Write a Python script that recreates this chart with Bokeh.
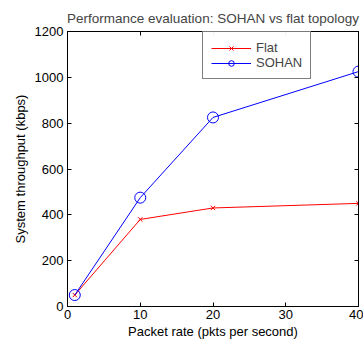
from bokeh.plotting import figure
from bokeh.models import LinearAxis, Range1d, Legend, LegendItem, FixedTicker
from bokeh.embed import file_html
from bokeh.resources import INLINE

packet_rate = [1, 10, 20, 40]
flat = [50, 380, 430, 450]
sohan = [50, 475, 825, 1025]

x_ticks = [0, 10, 20, 30, 40]
y_ticks = [0, 200, 400, 600, 800, 1000, 1200]

FONT = "Liberation Sans"
FS = "13px"

p = figure(width=363, height=344, output_backend="svg", toolbar_location=None,
           x_range=Range1d(0, 40), y_range=Range1d(0, 1200),
           min_border_left=67, min_border_right=5, min_border_top=31, min_border_bottom=38)
p.title.text = "Performance evaluation: SOHAN vs flat topology"
p.title.align = "center"
p.title.text_font = FONT
p.title.text_font_size = "13.5px"
p.title.text_font_style = "normal"
p.title.offset = 0
p.title.standoff = 11

p.xgrid.visible = False
p.ygrid.visible = False
p.outline_line_color = "black"
p.outline_line_width = 1

for ax in (p.xaxis[0], p.yaxis[0]):
    ax.major_tick_in = 4
    ax.major_tick_out = 0
    ax.minor_tick_in = 0
    ax.minor_tick_out = 0
    ax.major_tick_line_color = "black"
    ax.major_label_text_font = FONT
    ax.major_label_text_font_size = FS
    ax.major_label_text_color = "black"
    ax.axis_label_text_font = FONT
    ax.axis_label_text_font_size = FS
    ax.axis_label_text_font_style = "normal"
    ax.axis_label_text_color = "black"
    ax.axis_line_color = "black"

p.xaxis[0].ticker = FixedTicker(ticks=x_ticks)
p.yaxis[0].ticker = FixedTicker(ticks=y_ticks)
p.xaxis[0].axis_label = "Packet rate (pkts per second)"
p.yaxis[0].axis_label = "System throughput (kbps)"
p.xaxis[0].axis_label_standoff = 2
p.yaxis[0].axis_label_standoff = 4
p.xaxis[0].major_label_standoff = 3
p.yaxis[0].major_label_standoff = 4

top = LinearAxis(ticker=FixedTicker(ticks=x_ticks),
                 major_label_overrides={t: "" for t in x_ticks},
                 major_tick_in=4, major_tick_out=0, minor_tick_in=0, minor_tick_out=0,
                 major_tick_line_color="black", axis_line_color="black")
right = LinearAxis(ticker=FixedTicker(ticks=y_ticks),
                   major_label_overrides={t: "" for t in y_ticks},
                   major_tick_in=4, major_tick_out=0, minor_tick_in=0, minor_tick_out=0,
                   major_tick_line_color="black", axis_line_color="black")
p.add_layout(top, "above")
p.add_layout(right, "right")

l1 = p.line(packet_rate, flat, line_color="red", line_width=1)
m1 = p.scatter(packet_rate, flat, marker="x", size=6, line_color="red", line_width=1)
l2 = p.line(packet_rate, sohan, line_color="blue", line_width=1)
m2 = p.scatter(packet_rate, sohan, marker="circle", size=11, line_color="blue",
               fill_color=None, line_width=1)

legend = Legend(items=[LegendItem(label="Flat", renderers=[l1, m1]),
                       LegendItem(label="SOHAN", renderers=[l2, m2])],
                location=(135, 227))
legend.border_line_color = "black"
legend.border_line_width = 1
legend.label_text_font = FONT
legend.label_text_font_size = FS
legend.glyph_width = 40
legend.label_standoff = 5
legend.spacing = 0
legend.padding = 8
legend.margin = 0
legend.label_height = 14
legend.glyph_height = 14
p.add_layout(legend, "center")

open("out.html", "w").write(file_html(p, INLINE))
